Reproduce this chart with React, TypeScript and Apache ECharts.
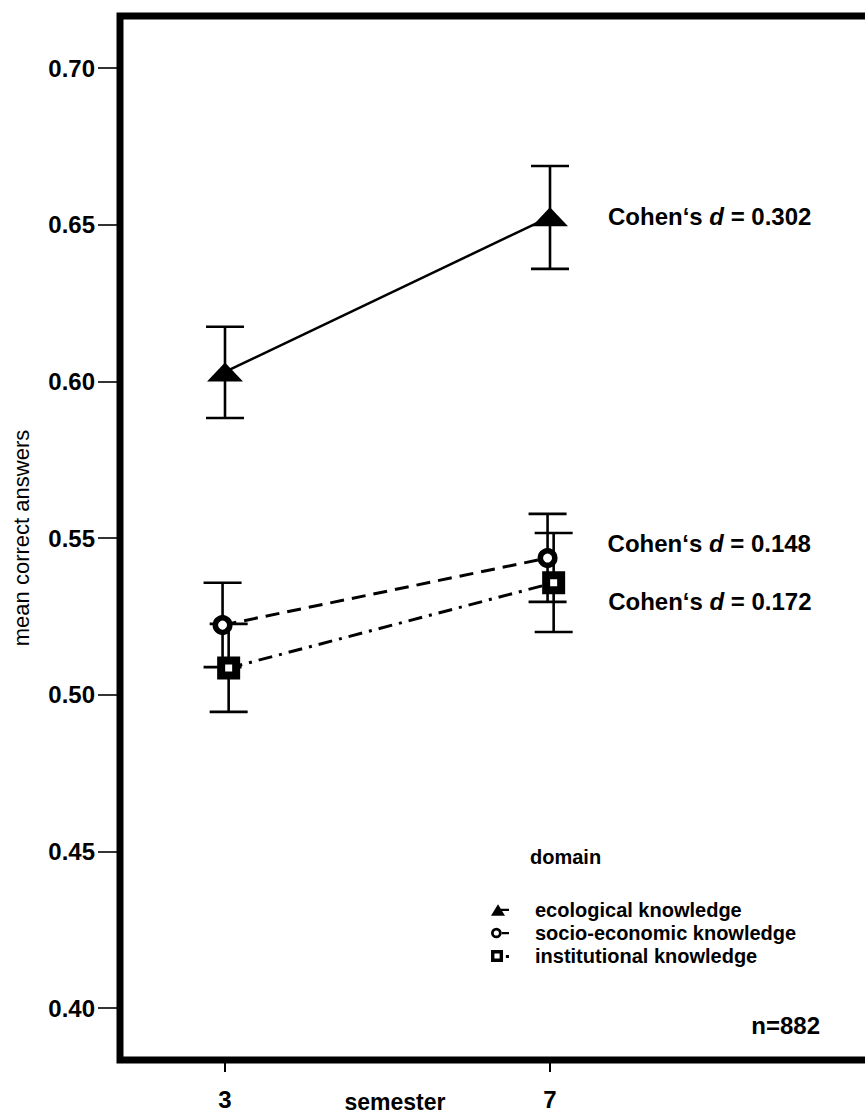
import React, { useEffect, useRef } from "react";
import * as echarts from "echarts";

const semesters = [3, 7];
const seriesNames = ["ecological knowledge", "socio-economic knowledge", "institutional knowledge"];
const ecoMean = [0.603, 0.6525];
const ecoLow = [0.5883, 0.6359];
const ecoHigh = [0.6174, 0.6687];
const socioMean = [0.5222, 0.5436];
const socioLow = [0.5088, 0.5296];
const socioHigh = [0.5357, 0.5577];
const instMean = [0.5085, 0.5357];
const instLow = [0.4945, 0.52];
const instHigh = [0.5226, 0.5516];
const cohensD = ["0.302", "0.148", "0.172"];
const yTicks = [0.4, 0.45, 0.5, 0.55, 0.6, 0.65, 0.7];
const xTicks = [3, 7];
const legendTitle = "domain";
const sampleLabel = "n=882";

const FONT = "'Liberation Sans', Arial, sans-serif";

const ICONS = [
  "path://M0,12 L7,0.5 L14,12 Z M9,5 L18,5 L18,7.2 L9,7.2 Z",
  "path://M0,7 A5.2,5.2 0 1,0 10.4,7 A5.2,5.2 0 1,0 0,7 Z M2.7,7 A2.5,2.5 0 1,1 7.7,7 A2.5,2.5 0 1,1 2.7,7 Z M10,6 L17.5,6 L17.5,8.2 L10,8.2 Z",
  "path://M0,1.5 L10.5,1.5 L10.5,12 L0,12 Z M3,4.5 L3,9 L7.5,9 L7.5,4.5 Z M13,5.8 L15.7,5.8 L15.7,8.5 L13,8.5 Z",
];

export default function App() {
  const ref = useRef<HTMLDivElement>(null);
  useEffect(() => {
    if (!ref.current) return;
    const chart = echarts.init(ref.current, null, { renderer: "svg" });

    const groups = [
      { name: seriesNames[0], mean: ecoMean, low: ecoLow, high: ecoHigh, dodge: 0, symbol: "triangle", symbolSize: [36, 19], itemStyle: { color: "#000", borderWidth: 0 }, lineType: "solid" as any, labelDist: 40, labelOff: 0 },
      { name: seriesNames[1], mean: socioMean, low: socioLow, high: socioHigh, dodge: -0.03, symbol: "circle", symbolSize: 14.5, itemStyle: { color: "#fff", borderColor: "#000", borderWidth: 5.5 }, lineType: [14, 8] as any, labelDist: 50, labelOff: -15 },
      { name: seriesNames[2], mean: instMean, low: instLow, high: instHigh, dodge: 0.045, symbol: "rect", symbolSize: 15, itemStyle: { color: "#fff", borderColor: "#000", borderWidth: 8 }, lineType: [14, 7, 3, 7] as any, labelDist: 43, labelOff: 19 },
    ];

    const series: any[] = [];
    groups.forEach((g, gi) => {
      series.push({
        type: "custom",
        name: "err" + gi,
        z: 1,
        silent: true,
        encode: { x: 0, y: [1, 2] },
        data: semesters.map((s, j) => [s + g.dodge, g.low[j], g.high[j]]),
        renderItem: (params: any, api: any) => {
          const x = api.value(0);
          const pHi = api.coord([x, api.value(2)]);
          const pLo = api.coord([x, api.value(1)]);
          const hw = 19;
          const style = { stroke: "#000", lineWidth: 2.6, fill: "none" };
          return {
            type: "group",
            children: [
              { type: "line", shape: { x1: pHi[0], y1: pHi[1], x2: pLo[0], y2: pLo[1] }, style },
              { type: "line", shape: { x1: pHi[0] - hw, y1: pHi[1], x2: pHi[0] + hw, y2: pHi[1] }, style },
              { type: "line", shape: { x1: pLo[0] - hw, y1: pLo[1], x2: pLo[0] + hw, y2: pLo[1] }, style },
            ],
          };
        },
      });
      series.push({
        type: "line",
        name: g.name,
        z: 3,
        symbol: g.symbol,
        symbolSize: g.symbolSize,
        itemStyle: g.itemStyle,
        lineStyle: { color: "#000", width: gi === 0 ? 2.5 : 3, type: g.lineType },
        data: semesters.map((s, j) => ({
          value: [s + g.dodge, g.mean[j]],
          label:
            j === 1
              ? {
                  show: true,
                  position: "right",
                  distance: g.labelDist,
                  offset: [0, g.labelOff],
                  formatter: () => `{t|Cohen‘s }{i|d}{t| = ${cohensD[gi]}}`,
                  rich: {
                    t: { fontFamily: FONT, fontSize: 24, fontWeight: "bold", color: "#000" },
                    i: { fontFamily: FONT, fontSize: 24, fontWeight: "bold", fontStyle: "italic", color: "#000" },
                  },
                }
              : { show: false },
        })),
      });
    });

    chart.setOption({
      animation: false,
      backgroundColor: "#fff",
      grid: {
        left: 120,
        top: 16,
        right: -20,
        bottom: 55,
        show: true,
        borderColor: "#000",
        borderWidth: 7,
        backgroundColor: "#fff",
        containLabel: false,
        outerBoundsMode: "none",
      },
      xAxis: {
        type: "value",
        min: 1.70769,
        max: 11.12308,
        splitLine: { show: false },
        axisLine: { show: true, lineStyle: { color: "#000", width: 1 } },
        axisTick: { show: true, customValues: xTicks, length: 12, lineStyle: { color: "#000", width: 2 } },
        axisLabel: { customValues: xTicks, margin: 27, fontFamily: FONT, fontSize: 24, fontWeight: "bold", color: "#000" },
        name: "semester",
        nameLocation: "middle",
        nameGap: 31,
        nameMoveOverlap: false,
        nameTextStyle: { fontFamily: FONT, fontSize: 23, fontWeight: "bold", color: "#000", padding: [0, 215, 0, 0], lineHeight: 22 },
      },
      yAxis: {
        type: "value",
        min: 0.383405,
        max: 0.716596,
        splitLine: { show: false },
        axisLine: { show: true, lineStyle: { color: "#000", width: 1 } },
        axisTick: { show: true, customValues: yTicks, length: 22, lineStyle: { color: "#000", width: 1.6 } },
        axisLabel: {
          customValues: yTicks,
          margin: 25,
          formatter: (v: number) => v.toFixed(2),
          fontFamily: FONT,
          fontSize: 24,
          fontWeight: "bold",
          color: "#000",
        },
        name: "mean correct answers",
        nameLocation: "middle",
        nameRotate: 90,
        nameGap: 88,
        nameMoveOverlap: false,
        nameTextStyle: { fontFamily: FONT, fontSize: 22, color: "#000" },
      },
      legend: {
        data: seriesNames.map((n, i) => ({ name: n, icon: ICONS[i], itemStyle: { color: "#000", borderWidth: 0 } })),
        orient: "vertical",
        left: 486,
        top: 894,
        itemWidth: 18,
        itemHeight: 12,
        itemGap: 1,
        selectedMode: false,
        textStyle: { fontFamily: FONT, fontSize: 20, fontWeight: "bold", color: "#000", padding: [0, 0, 0, 21], lineHeight: 22 },
      },
      graphic: [
        { type: "text", x: 530, y: 857, style: { text: legendTitle, fontFamily: FONT, fontSize: 20, fontWeight: "bold", fill: "#000", verticalAlign: "middle", align: "left" } },
        { type: "text", x: 820, y: 1025, style: { text: sampleLabel, fontFamily: FONT, fontSize: 24, fontWeight: "bold", fill: "#000", verticalAlign: "middle", align: "right" } },
      ],
      series,
    });
    return () => chart.dispose();
  }, []);
  return <div ref={ref} style={{ position: "fixed", left: 0, top: 0, width: 865, height: 1115 }} />;
}
